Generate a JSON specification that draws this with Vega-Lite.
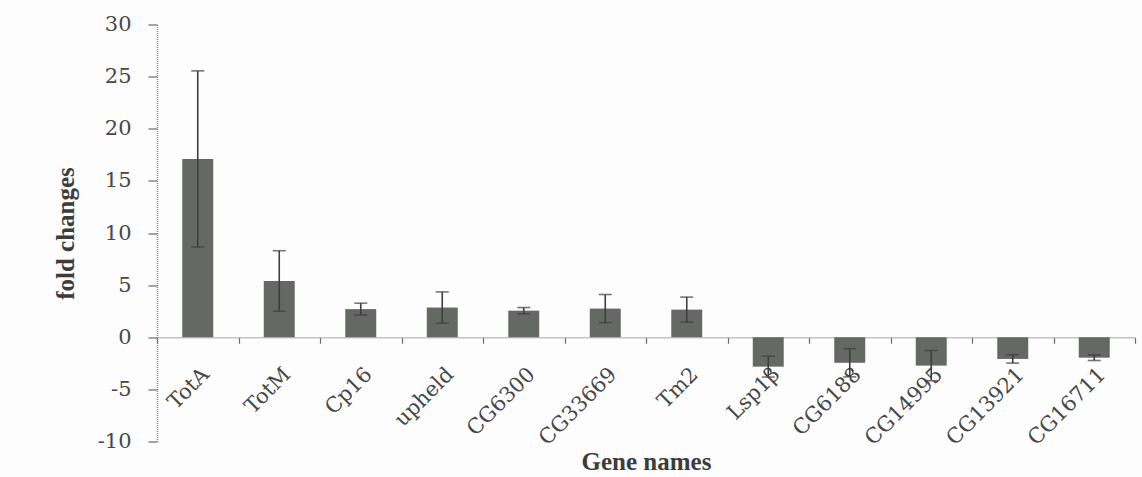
{
  "$schema": "https://vega.github.io/schema/vega-lite/v6.json",
  "autosize": "none",
  "width": 978,
  "height": 417,
  "padding": {"left": 157, "top": 24.5, "right": 7, "bottom": 35.5},
  "background": "#fdfdfd",
  "config": {
    "view": {"stroke": null},
    "axis": {
      "grid": false,
      "domainColor": "#8a8a8a",
      "domainDash": [1, 1],
      "domainWidth": 1.5,
      "tickColor": "#6a6a6a",
      "tickWidth": 1.2,
      "labelFont": "DejaVu Serif",
      "labelFontSize": 21,
      "labelColor": "#474747",
      "titleFont": "Liberation Serif",
      "titleFontSize": 25,
      "titleFontWeight": "bold",
      "titleColor": "#3c3c3c"
    }
  },
  "data": {
    "values": [
      {"gene": "TotA", "fold": 17.1, "err": 8.45},
      {"gene": "TotM", "fold": 5.4, "err": 2.9},
      {"gene": "Cp16", "fold": 2.7, "err": 0.57},
      {"gene": "upheld", "fold": 2.85, "err": 1.5},
      {"gene": "CG6300", "fold": 2.55, "err": 0.3},
      {"gene": "CG33669", "fold": 2.75, "err": 1.35},
      {"gene": "Tm2", "fold": 2.65, "err": 1.2},
      {"gene": "Lsp1β", "fold": -2.82, "err": 1.0},
      {"gene": "CG6188", "fold": -2.45, "err": 1.35},
      {"gene": "CG14995", "fold": -2.72, "err": 1.45},
      {"gene": "CG13921", "fold": -2.08, "err": 0.4},
      {"gene": "CG16711", "fold": -1.96, "err": 0.27}
    ]
  },
  "encoding": {
    "x": {
      "field": "gene",
      "type": "nominal",
      "sort": null,
      "scale": {"paddingInner": 0, "paddingOuter": 0},
      "axis": {
        "title": "Gene names",
        "offset": -104.25,
        "tickBand": "extent",
        "tickSize": 6,
        "labelAngle": -45,
        "labelPadding": 20,
        "titleY": 132.7,
        "titleBaseline": "alphabetic"
      }
    }
  },
  "layer": [
    {
      "mark": {"type": "bar", "width": {"band": 0.38}, "color": "#646a63"},
      "encoding": {
        "y": {
          "field": "fold",
          "type": "quantitative",
          "title": "fold changes",
          "scale": {"domain": [-10, 30], "nice": false, "zero": false},
          "axis": {
            "values": [-10, -5, 0, 5, 10, 15, 20, 25, 30],
            "labelExpr": "toString(datum.value)",
            "tickSize": 9,
            "labelPadding": 17,
            "titleX": -84,
            "titleY": 208.5,
            "titleBaseline": "alphabetic"
          }
        }
      }
    },
    {
      "mark": {
        "type": "errorbar",
        "color": "#3b403b",
        "thickness": 1.6,
        "ticks": {"size": 13, "thickness": 1.6, "color": "#3b403b"}
      },
      "encoding": {
        "y": {"field": "fold", "type": "quantitative", "title": "fold changes"},
        "yError": {"field": "err"}
      }
    }
  ]
}
